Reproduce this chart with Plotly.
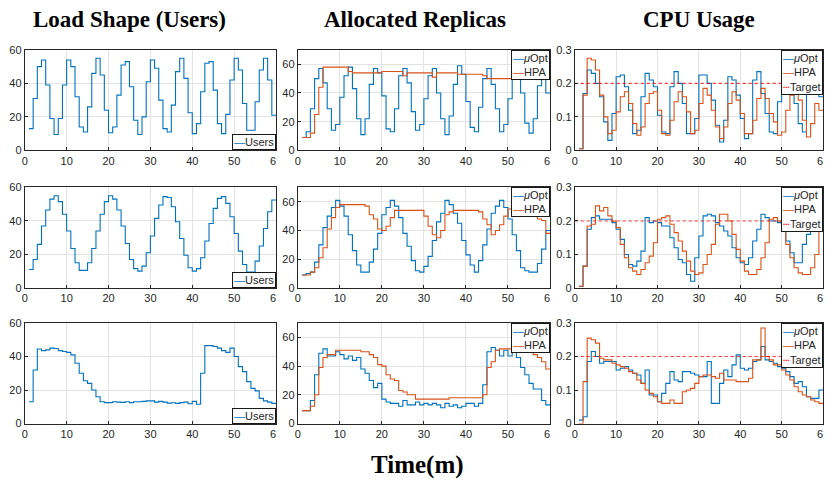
import plotly.graph_objects as go

# ---------------- data (values per minute, starting at minute 1) ----------------
TIME_TICKS = [0, 10, 20, 30, 40, 50, 60]
TIME_TICK_TEXT = ["0", "10", "20", "30", "40", "50", '6<span style="color:rgba(0,0,0,0)">0</span>']
USERS_TICKS = [0, 20, 40, 60]
CPU_TICKS = [0, 0.1, 0.2, 0.3]
CPU_TICK_TEXT = ["0", "0.1", "0.2", "0.3"]
TARGET = 0.2

users_1 = [13, 31, 50, 54, 39, 19, 9.5, 19, 39, 54,
           50, 32, 14, 11, 26, 46, 55, 45, 24, 10.5,
           14, 33, 51, 53, 38, 18, 9.5, 20, 41, 54,
           49, 30, 13, 11, 27, 47, 55, 43, 22.5, 10,
           16, 35, 52, 53, 36, 16, 10, 21.5, 42, 55,
           48, 28, 12, 12, 29, 48, 55, 42, 21]
users_2 = [11, 17, 26, 37, 46.5, 53, 55, 51.5, 44, 34,
           23.5, 15, 10.5, 10.5, 15, 23.5, 34, 44, 51.5, 55,
           53, 46.5, 37, 26.5, 17, 11.5, 10, 13, 21, 31,
           41.5, 49.5, 54.5, 54, 48.5, 39.5, 29.5, 19.5, 12, 10,
           11.5, 18, 28, 38.5, 47.5, 53.5, 54.5, 50.5, 42.5, 32.5,
           22, 14, 9.5, 9.5, 16, 25, 35.5, 45.5, 52.5]
users_3 = [13, 32, 44.5, 43.5, 44, 45, 44.8, 43.5, 43, 42.5,
           41, 36, 30, 25.5, 24, 20, 16, 13, 12.5, 12.5,
           13, 12.8, 12.6, 13, 12.5, 13, 13, 13.2, 13.5, 13.5,
           12.8, 13.2, 12.8, 12.2, 12.4, 12, 12.5, 12.8, 11.8, 13.2,
           11.5, 30, 46.5, 46.5, 46, 45, 43.5, 42.5, 45, 40,
           34, 31, 25, 21, 19.5, 15, 13.5, 12.8, 12]

rep_opt_1 = [9, 13, 29, 50, 57, 47, 29, 14, 18, 37,
             52, 58, 43, 22, 11, 22, 46, 57, 54, 38,
             15, 13, 29, 52, 57, 47, 27, 14, 18, 36,
             52, 57, 40, 22, 11, 24, 46, 59, 53, 34,
             16, 13, 30, 50, 57, 46, 29, 13, 18, 36,
             54, 52, 40, 19, 12, 22, 45, 53, 40]
rep_hpa_1 = [9, 9, 12, 25, 44, 58, 58, 58, 58, 58,
             58, 55, 54, 54, 54, 54, 54, 54, 54, 55,
             55, 55, 55, 55, 52, 54, 54, 54, 54, 54,
             54, 51, 54, 54, 54, 54, 54, 53, 53, 53,
             53, 53, 53, 52, 50, 50, 50, 50, 50, 50,
             50, 50, 50, 50, 50, 50, 50, 50, 50]
rep_opt_2 = [9, 10, 11, 18, 30, 42, 50, 56, 61, 57,
             50, 37, 26, 16, 11, 11, 18, 27, 38, 51,
             56, 61, 57, 49, 38, 29, 19, 12, 11, 15,
             22, 33, 46, 52, 61, 58, 52, 45, 33, 23,
             16, 11, 19, 30, 41, 52, 57, 61, 56, 48,
             37, 26, 14, 12, 11, 11, 17, 27, 40]
rep_hpa_2 = [9, 9, 11, 14, 21, 28, 41, 49, 56, 58,
             58, 58, 58, 58, 58, 57, 51, 48, 41, 40,
             43, 49, 54, 54, 54, 54, 54, 54, 54, 50,
             43, 37, 35, 40, 51, 53, 54, 54, 54, 54,
             54, 54, 53, 48, 44, 37, 40, 44, 50, 55,
             55, 55, 55, 55, 54, 52, 48, 47, 38]
rep_opt_3 = [9, 9, 16, 34, 49, 52, 47, 47, 50, 48,
             45, 47, 44, 46, 38, 35, 30, 25, 28, 17,
             15, 14, 14, 12, 16, 13, 13, 15, 13, 14,
             13, 14, 13, 11, 14, 12, 13, 11, 12, 14,
             14, 12, 14, 27, 50, 53, 51, 47, 51, 47,
             50, 46, 39, 34, 28, 24, 24, 16, 13]
rep_hpa_3 = [9, 9, 12, 20, 39, 46, 48, 48, 51, 51,
             51, 51, 51, 51, 50, 50, 48, 46, 41, 40,
             34, 31, 30, 23, 22, 20, 20, 17, 17, 17,
             17, 17, 17, 17, 17, 18, 18, 18, 18, 18,
             18, 18, 18, 20, 39, 43, 51, 52, 52, 52,
             52, 52, 52, 52, 50, 48, 46, 43, 38]

cpu_opt_1 = [0.005, 0.17, 0.24, 0.23, 0.2, 0.16, 0.085, 0.03, 0.11, 0.22,
             0.225, 0.19, 0.12, 0.05, 0.06, 0.16, 0.23, 0.21, 0.19, 0.105,
             0.055, 0.05, 0.19, 0.235, 0.2, 0.14, 0.05, 0.05, 0.095, 0.225,
             0.225, 0.2, 0.15, 0.075, 0.025, 0.09, 0.22, 0.21, 0.165, 0.095,
             0.035, 0.05, 0.21, 0.235, 0.17, 0.11, 0.055, 0.05, 0.145, 0.185,
             0.2, 0.2, 0.14, 0.08, 0.055, 0.2, 0.22, 0.2, 0.16]
cpu_hpa_1 = [0.005, 0.165, 0.275, 0.27, 0.24, 0.165, 0.1, 0.05, 0.06, 0.115,
             0.16, 0.175, 0.14, 0.08, 0.045, 0.07, 0.14, 0.17, 0.175, 0.12,
             0.05, 0.045, 0.09, 0.145, 0.175, 0.16, 0.115, 0.05, 0.06, 0.14,
             0.185, 0.165, 0.12, 0.07, 0.035, 0.07, 0.14, 0.175, 0.15, 0.11,
             0.05, 0.05, 0.09, 0.155, 0.185, 0.155, 0.11, 0.085, 0.045, 0.055,
             0.12, 0.165, 0.185, 0.15, 0.09, 0.04, 0.08, 0.14, 0.12]
cpu_opt_2 = [0.005, 0.065, 0.175, 0.21, 0.215, 0.205, 0.205, 0.205, 0.195, 0.175,
             0.145, 0.1, 0.07, 0.065, 0.08, 0.11, 0.21, 0.195, 0.2, 0.195,
             0.185, 0.185, 0.15, 0.12, 0.085, 0.075, 0.04, 0.02, 0.09, 0.155,
             0.215, 0.22, 0.215, 0.195, 0.185, 0.17, 0.155, 0.12, 0.09, 0.075,
             0.07, 0.09, 0.14, 0.175, 0.22, 0.21, 0.2, 0.2, 0.195, 0.17,
             0.14, 0.105, 0.075, 0.075, 0.13, 0.16, 0.2, 0.2, 0.21]
cpu_hpa_2 = [0.005, 0.065, 0.185, 0.19, 0.245, 0.23, 0.24, 0.215, 0.2, 0.18,
             0.13, 0.09, 0.06, 0.05, 0.04, 0.055, 0.075, 0.095, 0.135, 0.205,
             0.21, 0.215, 0.19, 0.165, 0.14, 0.11, 0.08, 0.05, 0.04, 0.045,
             0.07, 0.1, 0.13, 0.19, 0.22, 0.22, 0.2, 0.16, 0.115, 0.08,
             0.05, 0.04, 0.04, 0.055, 0.09, 0.135, 0.205, 0.21, 0.2, 0.17,
             0.13, 0.09, 0.06, 0.045, 0.04, 0.04, 0.06, 0.1, 0.2]
cpu_opt_3 = [0.01, 0.02, 0.185, 0.215, 0.2, 0.18, 0.185, 0.185, 0.185, 0.16,
             0.165, 0.17, 0.16, 0.15, 0.145, 0.12, 0.16, 0.085, 0.085, 0.065,
             0.09, 0.12, 0.155, 0.13, 0.125, 0.155, 0.155, 0.15, 0.145, 0.14,
             0.14, 0.185, 0.06, 0.06, 0.12, 0.16, 0.14, 0.175, 0.205, 0.165,
             0.16, 0.165, 0.185, 0.19, 0.23, 0.19, 0.185, 0.18, 0.17, 0.165,
             0.155, 0.14, 0.12, 0.125, 0.11, 0.08, 0.075, 0.075, 0.1]
cpu_hpa_3 = [0.0, 0.125, 0.255, 0.25, 0.24, 0.195, 0.19, 0.19, 0.18, 0.175,
             0.17, 0.165, 0.155, 0.15, 0.13, 0.12, 0.1, 0.09, 0.08, 0.065,
             0.06, 0.06, 0.07, 0.06, 0.06, 0.095, 0.1, 0.105, 0.12, 0.14,
             0.145, 0.145, 0.14, 0.135, 0.15, 0.13, 0.13, 0.13, 0.125, 0.125,
             0.125, 0.135, 0.19, 0.19, 0.285, 0.2, 0.19, 0.175, 0.175, 0.16,
             0.145, 0.13, 0.11, 0.095, 0.085, 0.08, 0.07, 0.065, 0.06]

COL_TITLES = ["Load Shape (Users)", "Allocated Replicas", "CPU Usage"]
X_TITLE = "Time(m)"

# ---------------- styling ----------------
BLUE = "#0072BD"
ORANGE = "#D95319"
RED = "rgba(255,0,0,0.75)"
AXC = "#262626"
GRID = "#E3E3E3"
W, H = 832, 490
COLS_PX = [(22, 276), (298, 553), (578, 829)]
ROWS_PX = [(45, 148), (186, 289), (325, 428)]
SANS = "Liberation Sans, Arial, sans-serif"
SERIF = "Liberation Serif, Times New Roman, serif"


def stairs(vals):
    xs = list(range(1, len(vals) + 1)) + [len(vals) + 1]
    ys = list(vals) + [vals[-1]]
    return xs, ys


fig = go.Figure()

panels = [
    [("Users", users_1, BLUE)],
    [("μOpt", rep_opt_1, BLUE), ("HPA", rep_hpa_1, ORANGE)],
    [("μOpt", cpu_opt_1, BLUE), ("HPA", cpu_hpa_1, ORANGE)],
    [("Users", users_2, BLUE)],
    [("μOpt", rep_opt_2, BLUE), ("HPA", rep_hpa_2, ORANGE)],
    [("μOpt", cpu_opt_2, BLUE), ("HPA", cpu_hpa_2, ORANGE)],
    [("Users", users_3, BLUE)],
    [("μOpt", rep_opt_3, BLUE), ("HPA", rep_hpa_3, ORANGE)],
    [("μOpt", cpu_opt_3, BLUE), ("HPA", cpu_hpa_3, ORANGE)],
]

layout_axes = {}
annotations = []
for k, series in enumerate(panels):
    r, c = divmod(k, 3)
    xr = "x" if k == 0 else f"x{k+1}"
    yr = "y" if k == 0 else f"y{k+1}"
    for name, vals, color in series:
        xs, ys = stairs(vals)
        fig.add_trace(go.Scatter(x=xs, y=ys, mode="lines", name=name,
                                 line=dict(color=color, width=1.1, shape="hv"),
                                 xaxis=xr, yaxis=yr, showlegend=False))
    if c == 2:
        fig.add_trace(go.Scatter(x=[0, 60], y=[TARGET, TARGET], mode="lines", name="Target",
                                 line=dict(color=RED, width=1.1, dash="dot"),
                                 xaxis=xr, yaxis=yr, showlegend=False))
    x0, x1 = COLS_PX[c]
    top, bot = ROWS_PX[r]
    common = dict(showline=True, mirror=True, linecolor=AXC, linewidth=1,
                  ticks="inside", ticklen=3, tickcolor=AXC, showgrid=True,
                  gridcolor=GRID, gridwidth=1, zeroline=False,
                  tickfont=dict(family=SANS, size=11, color=AXC))
    layout_axes["xaxis" if k == 0 else f"xaxis{k+1}"] = dict(
        domain=[x0 / W, x1 / W], anchor=yr, range=[0, 60],
        tickmode="array", tickvals=TIME_TICKS, ticktext=TIME_TICK_TEXT, **common)
    if c == 2:
        ycfg = dict(range=[0, 0.3], tickmode="array", tickvals=CPU_TICKS, ticktext=CPU_TICK_TEXT)
    elif c == 1:
        ycfg = dict(range=[0, 70], tickmode="array", tickvals=USERS_TICKS)
    else:
        ycfg = dict(range=[0, 60], tickmode="array", tickvals=USERS_TICKS)
    layout_axes["yaxis" if k == 0 else f"yaxis{k+1}"] = dict(
        domain=[1 - bot / H, 1 - top / H], anchor=xr, **ycfg, **common)

    # legend boxes
    lines = []
    for name, vals, color in series:
        label = "<i>μ</i>Opt" if name == "μOpt" else name
        lines.append(f'<span style="color:{color}">—</span>{label}')
    if c == 2:
        lines.append('<span style="color:#FF0000">┄</span>Target')
    bottom_legend = (c == 0)
    annotations.append(dict(
        text="<br>".join(lines), xref=f"{xr} domain", yref=f"{yr} domain",
        x=1, y=0 if bottom_legend else 1, xanchor="right",
        yanchor="bottom" if bottom_legend else "top",
        showarrow=False, align="left", bgcolor="white",
        bordercolor="#1a1a1a", borderwidth=1, borderpad=1,
        font=dict(family=SANS, size=11, color=AXC)))

# column titles
for c, t in enumerate(COL_TITLES):
    cx = [128, 416, 704][c]
    annotations.append(dict(text=f"<b>{t}</b>", xref="paper", yref="paper",
                            x=cx / W, y=1 - 14 / H, xanchor="center", yanchor="middle",
                            showarrow=False, font=dict(family=SERIF, size=23, color="black")))
annotations.append(dict(text=f"<b>{X_TITLE}</b>", xref="paper", yref="paper",
                        x=419 / W, y=1 - 471 / H, xanchor="center", yanchor="middle",
                        showarrow=False, font=dict(family=SERIF, size=25, color="black")))

fig.update_layout(width=W, height=H, margin=dict(l=0, r=0, t=0, b=0),
                  paper_bgcolor="white", plot_bgcolor="white",
                  annotations=annotations, showlegend=False, **layout_axes)

fig.write_html("out.html")
